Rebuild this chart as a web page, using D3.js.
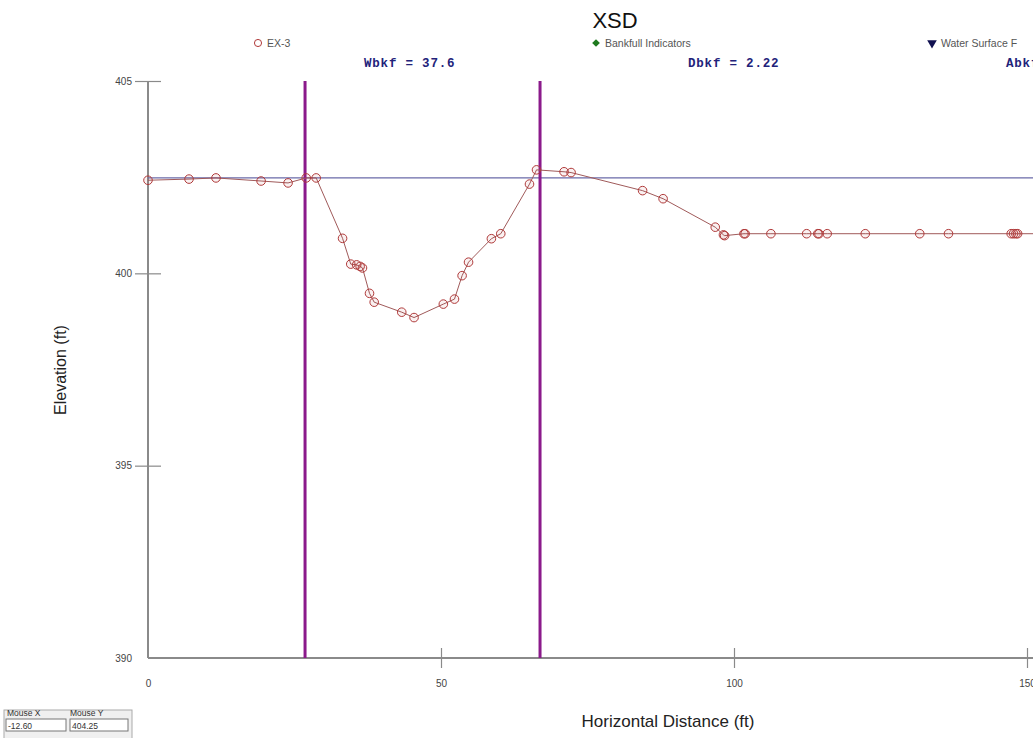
<!DOCTYPE html>
<html><head><meta charset="utf-8">
<script src="https://cdn.jsdelivr.net/npm/d3@7/dist/d3.min.js"></script>
<style>
html,body{margin:0;padding:0;background:#fff;overflow:hidden;}
svg{display:block;font-family:"Liberation Sans",Arial,sans-serif;}
</style></head>
<body>
<svg id="chart" width="1033" height="738"></svg>
<script>
// ---- data ----
const stationX = [0, 7.0, 11.6, 19.3, 23.9, 27.0, 28.7, 33.2, 34.6, 35.6, 36.2, 36.6, 37.8, 38.6, 43.3, 45.4, 50.4, 52.3, 53.6, 54.7, 58.6, 60.2, 65.1, 66.3, 71.0, 72.2, 84.4, 87.9, 96.8, 98.2, 98.4, 101.7, 101.9, 106.3, 112.4, 114.3, 114.5, 115.9, 122.4, 131.7, 136.6, 147.3, 147.7, 148.1, 148.4, 160];
const elevation = [402.42, 402.45, 402.48, 402.40, 402.35, 402.48, 402.48, 400.91, 400.24, 400.22, 400.18, 400.14, 399.48, 399.25, 398.99, 398.85, 399.20, 399.33, 399.94, 400.29, 400.90, 401.03, 402.32, 402.69, 402.64, 402.62, 402.15, 401.94, 401.20, 401.00, 400.98, 401.03, 401.03, 401.03, 401.03, 401.03, 401.03, 401.03, 401.03, 401.03, 401.03, 401.03, 401.03, 401.03, 401.03, 401.03];
const bankfullX = [26.8, 66.9];
const waterSurface = 402.48;
const xTicks = [0, 50, 100, 150];
const yTicks = [390, 395, 400, 405];
const annotations = ["Wbkf = 37.6", "Dbkf = 2.22", "Abkf"];
const legendLabels = ["EX-3", "Bankfull Indicators", "Water Surface F"];

const svg = d3.select("#chart");
const x = d3.scaleLinear().domain([0, 150]).range([148, 1027]);
const y = d3.scaleLinear().domain([390, 405]).range([658, 81]);

// title
svg.append("text").attr("x", 615).attr("y", 28).attr("text-anchor", "middle")
  .attr("font-size", 22).attr("fill", "#111").text("XSD");

// legend
const lg = svg.append("g").attr("font-size", 10.5).attr("fill", "#555");
const legX = [258, 596, 932];
lg.append("path").attr("d", d3.symbol(d3.symbolCircle, 40)())
  .attr("transform", `translate(${legX[0]},43)`).attr("fill", "none").attr("stroke", "#b03a3a").attr("stroke-width", 1);
lg.append("path").attr("d", d3.symbol(d3.symbolSquare, 30)())
  .attr("transform", `translate(${legX[1]},43) rotate(45)`).attr("fill", "#1f7a1f");
lg.append("path").attr("d", d3.symbol(d3.symbolTriangle, 40)())
  .attr("transform", `translate(${legX[2]},43) rotate(180)`).attr("fill", "#101050");
legendLabels.forEach((t, i) => {
  lg.append("text").attr("x", legX[i] + 9).attr("y", 47).text(t);
});

// annotations
const annX = [364, 688, 1006];
annotations.forEach((t, i) => {
  svg.append("text").attr("x", annX[i]).attr("y", 67)
    .attr("font-family", "'Liberation Mono','DejaVu Sans Mono',monospace")
    .attr("font-weight", "bold").attr("font-size", 12.5).attr("letter-spacing", 0.8)
    .attr("fill", "#22227a")
    .attr("xml:space", "preserve").text(t);
});

// axes
const axisColor = "#8a8a8a";
const yAxis = svg.append("g").attr("transform", "translate(148,0)")
  .call(d3.axisLeft(y).tickValues(yTicks).tickSize(13).tickPadding(3).tickFormat(d3.format("d")));
yAxis.select(".domain").remove();
yAxis.selectAll(".tick line").attr("x1", 13).attr("x2", -13).attr("stroke", axisColor).attr("stroke-width", 1.2);
yAxis.selectAll(".tick").filter(d => d === 390).select("line").remove();
yAxis.selectAll(".tick text").attr("font-size", 10).attr("fill", "#444").attr("font-family", "'Liberation Sans',Arial,sans-serif");

const xAxis = svg.append("g").attr("transform", "translate(0,658)")
  .call(d3.axisBottom(x).tickValues(xTicks).tickSize(10).tickPadding(12).tickFormat(d3.format("d")));
xAxis.select(".domain").remove();
xAxis.selectAll(".tick line").attr("y1", -10).attr("y2", 10).attr("stroke", axisColor).attr("stroke-width", 1.2);
xAxis.selectAll(".tick").filter(d => d === 0).select("line").remove();
xAxis.selectAll(".tick text").attr("font-size", 10).attr("fill", "#444").attr("font-family", "'Liberation Sans',Arial,sans-serif");

// axis lines
svg.append("line").attr("x1", x(0)).attr("x2", x(0)).attr("y1", y(405)).attr("y2", y(390))
  .attr("stroke", axisColor).attr("stroke-width", 2);
svg.append("line").attr("x1", x(0)).attr("x2", 1040).attr("y1", y(390)).attr("y2", y(390))
  .attr("stroke", axisColor).attr("stroke-width", 2);

// axis titles
svg.append("text").attr("transform", "translate(66,370) rotate(-90)").attr("text-anchor", "middle")
  .attr("font-size", 16).attr("fill", "#222").text("Elevation (ft)");
svg.append("text").attr("x", 668).attr("y", 727).attr("text-anchor", "middle")
  .attr("font-size", 17).attr("fill", "#222").text("Horizontal Distance (ft)");

// water surface
svg.append("line").attr("x1", x(0)).attr("x2", 1040).attr("y1", y(waterSurface)).attr("y2", y(waterSurface))
  .attr("stroke", "#6a6aa8").attr("stroke-width", 1.3);

// bankfull verticals
svg.selectAll(".bkf").data(bankfullX).join("line").attr("class", "bkf")
  .attr("x1", d => x(d)).attr("x2", d => x(d)).attr("y1", y(405)).attr("y2", y(390))
  .attr("stroke", "#8b1a8b").attr("stroke-width", 3);

// profile line
const pts = stationX.map((d, i) => [d, elevation[i]]);
svg.append("path").datum(pts)
  .attr("d", d3.line().x(d => x(d[0])).y(d => y(d[1])))
  .attr("fill", "none").attr("stroke", "#a05a5a").attr("stroke-width", 1);

// markers
svg.selectAll(".pt").data(pts.filter(d => d[0] <= 150)).join("circle").attr("class", "pt")
  .attr("cx", d => x(d[0])).attr("cy", d => y(d[1])).attr("r", 4.3)
  .attr("fill", "rgba(190,50,50,0.07)").attr("stroke", "#b03a3a").attr("stroke-width", 1);

// mouse box widget
const mb = svg.append("g").attr("font-size", 8.5).attr("fill", "#333");
mb.append("rect").attr("x", 4).attr("y", 710).attr("width", 128).attr("height", 30)
  .attr("fill", "#f0f0f0").attr("stroke", "#aaa").attr("stroke-width", 1);
mb.append("text").attr("x", 7).attr("y", 716).text("Mouse X");
mb.append("text").attr("x", 70).attr("y", 716).text("Mouse Y");
mb.append("rect").attr("x", 6).attr("y", 719).attr("width", 60).attr("height", 12)
  .attr("fill", "#fff").attr("stroke", "#777");
mb.append("rect").attr("x", 70).attr("y", 719).attr("width", 58).attr("height", 12)
  .attr("fill", "#fff").attr("stroke", "#777");
mb.append("text").attr("x", 8).attr("y", 729).text("-12.60");
mb.append("text").attr("x", 72).attr("y", 729).text("404.25");
</script>
</body></html>
